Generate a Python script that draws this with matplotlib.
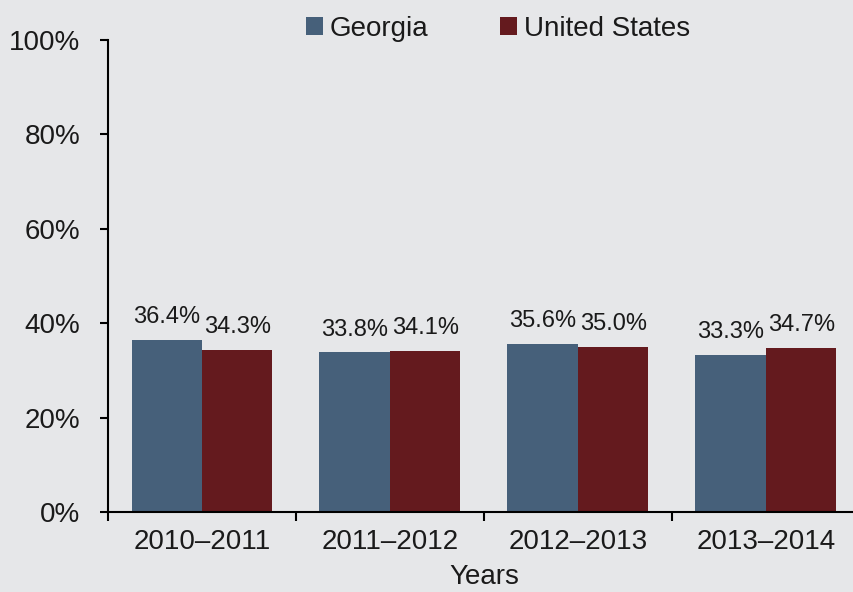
import matplotlib
matplotlib.use("Agg")
import matplotlib.pyplot as plt
import numpy as np

categories = ["2010–2011", "2011–2012", "2012–2013", "2013–2014"]
georgia = [36.4, 33.8, 35.6, 33.3]
united_states = [34.3, 34.1, 35.0, 34.7]
series_names = ["Georgia", "United States"]
y_ticks = [0, 20, 40, 60, 80, 100]

plt.rcParams['font.family'] = ['Liberation Sans', 'DejaVu Sans']

bg = "#e6e7e9"
c_ga = "#46607a"
c_us = "#641a1e"

fig = plt.figure(figsize=(8.54, 5.92), dpi=100, facecolor=bg)
W, H = 854, 592
ax = fig.add_axes([108 / W, (H - 512) / H, 752 / W, 472 / H])
ax.set_facecolor(bg)

x = np.arange(len(categories))
bw = 0.375
b1 = ax.bar(x - bw / 2, georgia, bw, color=c_ga, label=series_names[0])
b2 = ax.bar(x + bw / 2, united_states, bw, color=c_us, label=series_names[1])

for bars, vals in ((b1, georgia), (b2, united_states)):
    for rect, v in zip(bars, vals):
        ax.annotate(f"{v:.1f}%", (rect.get_x() + rect.get_width() / 2, v),
                    xytext=(0, 12.2), textcoords="offset points",
                    ha="center", va="baseline", fontsize=17, color="#1a1a1a")

ax.set_xlim(-0.5, 3.5)
ax.set_ylim(0, 100)
ax.set_yticks(y_ticks)
ax.set_yticklabels([f"{t}%" for t in y_ticks])
ax.set_xticks(x)
ax.set_xticklabels(categories)
ax.set_xticks(np.arange(-0.5, 4.0, 1.0), minor=True)

ax.tick_params(axis="x", which="major", length=0, pad=12, labelsize=20, colors="#1a1a1a")
ax.tick_params(axis="x", which="minor", length=6.5, width=1.5, direction="out", color="black")
ax.tick_params(axis="y", length=6, width=1.5, direction="out", pad=14, labelsize=20, colors="black", labelcolor="#1a1a1a")

for s in ("top", "right"):
    ax.spines[s].set_visible(False)
for s in ("left", "bottom"):
    ax.spines[s].set_linewidth(1.5)
    ax.spines[s].set_color("black")

ax.set_xlabel("Years", fontsize=20, labelpad=7, color="#1a1a1a")

leg = fig.legend(handles=[b1, b2], labels=series_names, loc="center",
                 bbox_to_anchor=(498 / W, 1 - 29 / H), ncol=2, frameon=False,
                 fontsize=20, handlelength=0.6, handleheight=0.6,
                 handletextpad=0.25, columnspacing=2.6, borderpad=0)
for t in leg.get_texts():
    t.set_color("#1a1a1a")

fig.savefig("out.png", dpi=100, facecolor=bg)
